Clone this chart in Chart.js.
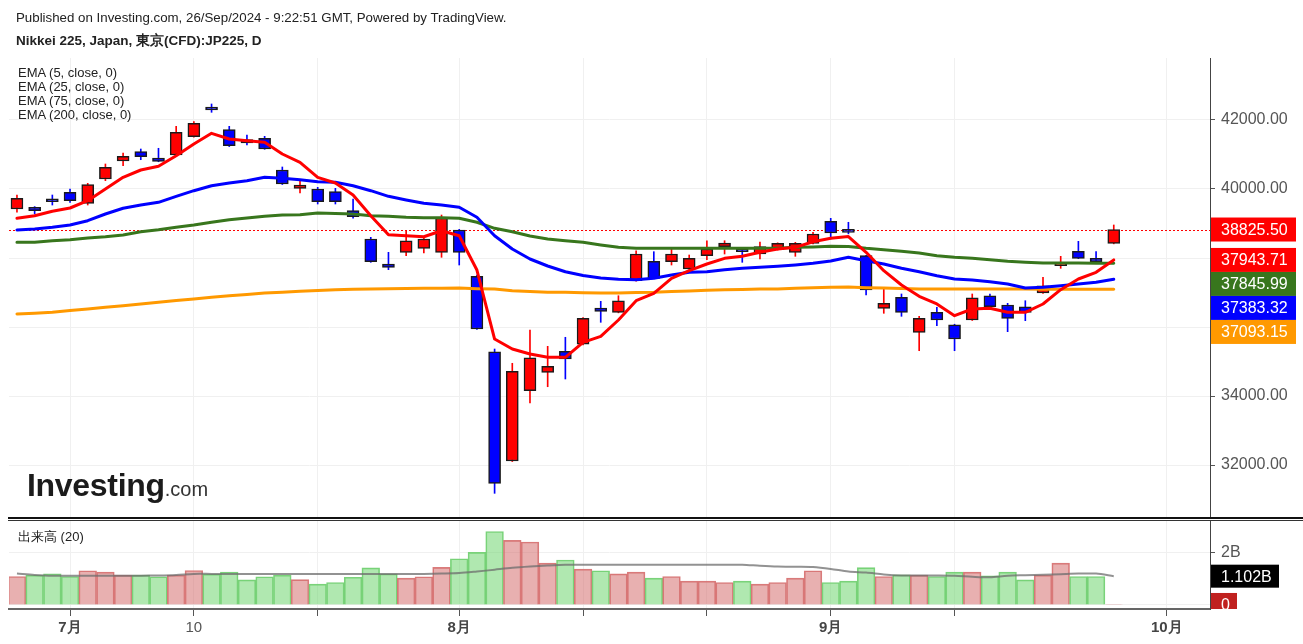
<!DOCTYPE html>
<html lang="ja">
<head>
<meta charset="utf-8">
<title>Nikkei 225 JP225 D</title>
<script src="https://cdn.jsdelivr.net/npm/chart.js@4.4.1/dist/chart.umd.min.js"></script>
<style>
  body { margin: 0; background: #fff; }
  #wrap { position: relative; width: 1303px; height: 644px; overflow: hidden; font-family: 'Liberation Sans', Arial, sans-serif; color: #222; }
  canvas { position: absolute; left: 0; }
  #priceChart { top: 0; }
  #volChart { top: 520px; }
  .pub { position: absolute; left: 16px; top: 10px; font-size: 13.3px; }
  .sym { position: absolute; left: 16px; top: 32px; font-size: 13.5px; font-weight: bold; }
  .ema { position: absolute; left: 18px; top: 66px; font-size: 13px; line-height: 14px; }
  .vol { position: absolute; left: 18px; top: 528px; font-size: 13px; }
  .logo { position: absolute; left: 27px; top: 469px; font-size: 32px; line-height: 32px; font-weight: bold; letter-spacing: -0.3px; color: #1b1b1b; }
  .logo span { font-size: 20px; font-weight: normal; letter-spacing: 0; color: #333; }
  .sep { position: absolute; left: 8px; right: 0; background: #111; }
</style>
</head>
<body>
<div id="wrap">
  <canvas id="priceChart" width="1303" height="518"></canvas>
  <canvas id="volChart" width="1303" height="124"></canvas>
  <div class="pub">Published on Investing.com, 26/Sep/2024 - 9:22:51 GMT, Powered by TradingView.</div>
  <div class="sym">Nikkei 225, Japan, 東京(CFD):JP225, D</div>
  <div class="ema">EMA (5, close, 0)<br>EMA (25, close, 0)<br>EMA (75, close, 0)<br>EMA (200, close, 0)</div>
  <div class="logo">Investing<span>.com</span></div>
  <div class="sep" style="top:517px;height:2px"></div>
  <div class="sep" style="top:520px;height:1px;background:#333"></div>
  <div class="vol">出来高 (20)</div>
</div>
<script>
// 日足 JP225 CFD, 2024/06/26 - 2024/09/26（祝日は休場）
const dates = [
  '06/26', '06/27', '06/28', '07/01', '07/02', '07/03', '07/04', '07/05', '07/08', '07/09',
  '07/10', '07/11', '07/12', '07/16', '07/17', '07/18', '07/19', '07/22', '07/23', '07/24',
  '07/25', '07/26', '07/29', '07/30', '07/31', '08/01', '08/02', '08/05', '08/06', '08/07',
  '08/08', '08/09', '08/13', '08/14', '08/15', '08/16', '08/19', '08/20', '08/21', '08/22',
  '08/23', '08/26', '08/27', '08/28', '08/29', '08/30', '09/02', '09/03', '09/04', '09/05',
  '09/06', '09/09', '09/10', '09/11', '09/12', '09/13', '09/17', '09/18', '09/19', '09/20',
  '09/24', '09/25', '09/26',
];
const opens = [
  39420, 39470, 39640, 39904, 39585, 40290, 40812, 41081, 40899, 40986,
  41516, 42368, 41719, 41429, 41470, 40551, 40020, 40000, 39922, 39371,
  38551, 37826, 38165, 38281, 38165, 38812, 37469, 35284, 32116, 34153,
  34687, 35296, 35499, 36551, 36426, 37342, 37904, 37893, 37681, 38067,
  38328, 38190, 38116, 38240, 38165, 38426, 39064, 38760, 38067, 36542,
  36861, 35846, 36426, 36066, 36203, 36907, 36638, 36588, 36985, 37780,
  38194, 37991, 38426,
];
const highs = [
  39826, 39490, 39826, 40000, 40165, 40725, 41043, 41159, 41180, 41817,
  41951, 42464, 41817, 41565, 41527, 40638, 40241, 40049, 40020, 39710,
  38600, 38165, 38791, 38570, 39246, 38830, 37507, 35362, 34948, 35913,
  35440, 35702, 36270, 36745, 36907, 38211, 38183, 38310, 38087, 38501,
  38501, 38261, 38464, 38440, 38455, 38745, 39150, 39035, 38080, 37122,
  36957, 36310, 36571, 36080, 36957, 36957, 36687, 36762, 37440, 38049,
  38484, 38183, 38957,
];
const lows = [
  39325, 39275, 39536, 39614, 39536, 40241, 40675, 40849, 40790, 40960,
  41500, 42223, 41230, 41275, 41150, 40130, 39884, 39565, 39565, 39151,
  37875, 37661, 38067, 38145, 38020, 37797, 35930, 31179, 32100, 33797,
  34269, 34493, 35480, 36136, 36410, 37330, 37400, 37797, 37670, 37951,
  38116, 37875, 37971, 38230, 38049, 38410, 38551, 38700, 36927, 36397,
  36310, 35313, 36038, 35313, 36190, 36522, 35864, 36183, 36970, 37701,
  37980, 37880, 38410,
];
const closes = [
  39730, 39374, 39630, 39661, 40125, 40629, 40948, 40936, 40803, 41643,
  41904, 42290, 41255, 41333, 41159, 40145, 40116, 39632, 39632, 39197,
  37893, 37730, 38501, 38551, 39159, 38165, 35942, 31469, 34716, 35110,
  34861, 35072, 36252, 36455, 36762, 38116, 37411, 38116, 37991, 38261,
  38435, 38180, 38328, 38426, 38426, 38696, 38725, 38745, 37072, 36687,
  36426, 36252, 36203, 35652, 36849, 36588, 36252, 36426, 37197, 37790,
  37991, 37893, 38825.5,
];
const ema5 = [
  39151, 39226, 39354, 39449, 39661, 40000, 40339, 40551, 40658, 40965,
  41304, 41614, 41449, 41400, 41354, 41014, 40774, 40339, 40174, 39826,
  39226, 38675, 38646, 38617, 38791, 38646, 37652, 35652, 35362, 35217,
  35122, 35122, 35556, 35730, 36203, 36762, 36977, 37411, 37632, 37826,
  37991, 38049, 38165, 38261, 38310, 38472, 38571, 38623, 38165, 37632,
  37217, 36890, 36667, 36327, 36522, 36542, 36426, 36426, 36667, 37081,
  37391, 37585, 37943.71,
];
const ema25 = [
  38812, 38841, 38890, 38956, 39081, 39275, 39441, 39536, 39614, 39788,
  39951, 40096, 40174, 40241, 40339, 40310, 40270, 40212, 40194, 40096,
  39951, 39788, 39681, 39585, 39536, 39470, 39180, 38646, 38261, 37971,
  37768, 37603, 37493, 37420, 37382, 37370, 37411, 37507, 37585, 37603,
  37661, 37701, 37730, 37759, 37797, 37846, 37913, 38020, 37922, 37826,
  37701, 37603, 37487, 37391, 37362, 37313, 37246, 37130, 37151, 37197,
  37246, 37296, 37383.32,
];
const ema75 = [
  38455, 38455, 38501, 38530, 38580, 38617, 38667, 38762, 38820, 38890,
  38956, 39035, 39110, 39159, 39209, 39246, 39255, 39304, 39290, 39275,
  39226, 39209, 39180, 39170, 39170, 39151, 39035, 38861, 38762, 38638,
  38551, 38501, 38455, 38377, 38310, 38281, 38281, 38281, 38281, 38281,
  38281, 38281, 38281, 38281, 38310, 38319, 38339, 38333, 38281, 38241,
  38194, 38145, 38067, 38020, 37991, 37951, 37904, 37875, 37855, 37855,
  37855, 37850, 37845.99,
];
const ema200 = [
  36377, 36400, 36426, 36475, 36522, 36570, 36617, 36665, 36716, 36765,
  36812, 36860, 36907, 36945, 36985, 37010, 37035, 37058, 37081, 37095,
  37105, 37110, 37115, 37120, 37125, 37128, 37110, 37100, 37052, 37030,
  37010, 37005, 36990, 36985, 36985, 37000, 37005, 37030, 37045, 37063,
  37080, 37090, 37100, 37102, 37120, 37135, 37150, 37160, 37140, 37130,
  37115, 37102, 37100, 37100, 37100, 37100, 37100, 37098, 37097, 37096,
  37095, 37094, 37093.15,
];
// 出来高（単位：B）
const volumes = [
  1.09, 1.14, 1.19, 1.09, 1.31, 1.26, 1.14, 1.14, 1.08, 1.14,
  1.32, 1.18, 1.26, 0.96, 1.08, 1.14, 0.97, 0.80, 0.86, 1.06,
  1.42, 1.19, 1.03, 1.08, 1.44, 1.77, 2.01, 2.81, 2.47, 2.41,
  1.60, 1.72, 1.37, 1.31, 1.19, 1.26, 1.03, 1.09, 0.91, 0.91,
  0.86, 0.91, 0.80, 0.86, 1.03, 1.31, 0.86, 0.91, 1.43, 1.09,
  1.15, 1.14, 1.09, 1.26, 1.26, 1.12, 1.26, 0.96, 1.14, 1.60,
  1.09, 1.09, 0.02,
];
const volSma = [
  1.20, 1.15, 1.12, 1.12, 1.12, 1.12, 1.12, 1.12, 1.13, 1.15,
  1.19, 1.19, 1.19, 1.19, 1.19, 1.19, 1.19, 1.19, 1.19, 1.19,
  1.19, 1.19, 1.19, 1.19, 1.20, 1.22, 1.28, 1.35, 1.42, 1.47,
  1.51, 1.54, 1.54, 1.54, 1.54, 1.54, 1.54, 1.54, 1.54, 1.54,
  1.54, 1.54, 1.50, 1.47, 1.46, 1.45, 1.38, 1.28, 1.24, 1.17,
  1.13, 1.13, 1.13, 1.12, 1.08, 1.06, 1.12, 1.14, 1.16, 1.18,
  1.20, 1.20, 1.102,
];
const priceTicks = [32000, 34000, 36000, 38000, 40000, 42000];
const volTicks = [0, 2];
const xTickIdx = [3, 10, 17, 25, 32, 39, 46, 53, 65];
const xTickText = ['7月', '10', '', '8月', '', '', '9月', '', '10月'];

const UP = '#ff0000', DOWN = '#0000ff';
const EMA_COLORS = { ema5: '#ff0000', ema25: '#0000ff', ema75: '#38761d', ema200: '#ff9900' };
const FONT = "'Liberation Sans', Arial, sans-serif";
const X_MIN = -0.45, X_MAX = 67.44;

Chart.defaults.font.family = FONT;

const isUp = (i) => closes[i] >= opens[i];
const candleColors = closes.map((c, i) => (isUp(i) ? UP : DOWN));
const pts = (arr) => arr.map((y, x) => ({ x, y }));
const setTicks = (vals) => (s) => { s.ticks = vals.map((value) => ({ value })); };
// 右軸の幅を固定し、ラベル分の上下パディングは付けない
const fixRightAxis = (s) => { s.width = 93; s.paddingTop = 0; s.paddingBottom = 0; };
const emaLine = (arr, color, order) => ({
  type: 'line', data: pts(arr), borderColor: color, borderWidth: 3,
  pointRadius: 0, tension: 0, borderJoinStyle: 'round', borderCapStyle: 'round', order,
});

function box(ctx, y, text, bg, w, h, font) {
  ctx.fillStyle = bg;
  ctx.fillRect(1211, y - h / 2, w, h);
  ctx.fillStyle = '#fff';
  ctx.font = font;
  ctx.textAlign = 'left';
  ctx.textBaseline = 'middle';
  ctx.fillText(text, 1221, y + 1);
}

const priceMarks = {
  id: 'priceMarks',
  beforeDatasetsDraw(chart) {
    const { ctx, chartArea: a, scales } = chart;
    const y = Math.round(scales.y.getPixelForValue(closes[closes.length - 1])) + 0.5;
    ctx.save();
    ctx.strokeStyle = '#ff0000';
    ctx.lineWidth = 1;
    ctx.setLineDash([2, 2]);
    ctx.beginPath();
    ctx.moveTo(a.left, y);
    ctx.lineTo(a.right, y);
    ctx.stroke();
    ctx.restore();
  },
  afterDraw(chart) {
    const { ctx, scales } = chart;
    const last = (arr) => arr[arr.length - 1];
    const tags = [
      { v: last(closes), bg: isUp(closes.length - 1) ? UP : DOWN },
      { v: last(ema5), bg: EMA_COLORS.ema5 },
      { v: last(ema75), bg: EMA_COLORS.ema75 },
      { v: last(ema25), bg: EMA_COLORS.ema25 },
      { v: last(ema200), bg: EMA_COLORS.ema200 },
    ].sort((p, q) => q.v - p.v);
    const H = 24;
    let bottom = -Infinity;
    ctx.save();
    tags.forEach((t) => {
      let y = scales.y.getPixelForValue(t.v);
      y = Math.max(y, bottom + H / 2);
      bottom = y + H / 2;
      box(ctx, y, t.v.toFixed(2), t.bg, 85, H, `16px ${FONT}`);
    });
    ctx.restore();
  },
};

new Chart(document.getElementById('priceChart'), {
  type: 'bar',
  data: {
    datasets: [
      emaLine(ema5, EMA_COLORS.ema5, 0),
      emaLine(ema25, EMA_COLORS.ema25, 1),
      emaLine(ema75, EMA_COLORS.ema75, 2),
      emaLine(ema200, EMA_COLORS.ema200, 3),
      {
        data: opens.map((o, i) => ({ x: i, y: [o, closes[i]] })),
        backgroundColor: candleColors, borderColor: '#1a1a1a', borderWidth: 1.5,
        borderSkipped: false, barThickness: 12, minBarLength: 3, grouped: false, order: 4,
      },
      {
        data: lows.map((l, i) => ({ x: i, y: [l, highs[i]] })),
        backgroundColor: candleColors, barThickness: 1, grouped: false, order: 5,
      },
    ],
  },
  options: {
    responsive: false,
    animation: false,
    layout: { padding: { left: 9, top: 58, right: 0, bottom: 0 } },
    plugins: { legend: { display: false }, tooltip: { enabled: false } },
    scales: {
      x: {
        type: 'linear', min: X_MIN, max: X_MAX, offset: false,
        afterBuildTicks: setTicks(xTickIdx),
        afterFit: (s) => { s.height = 0; },
        ticks: { display: false },
        grid: { color: '#f0f0f0', drawTicks: false, offset: false },
        border: { display: false },
      },
      y: {
        position: 'right', min: 30464, max: 43797,
        afterBuildTicks: setTicks(priceTicks),
        afterFit: fixRightAxis,
        ticks: { color: '#555', font: { size: 16 }, padding: 6, callback: (v) => v.toFixed(2) },
        grid: { color: '#f0f0f0', tickColor: '#555', tickLength: 5 },
        border: { color: '#444', width: 1 },
      },
    },
  },
  plugins: [priceMarks],
});

const volMarks = {
  id: 'volMarks',
  afterDraw(chart) {
    const { ctx, chartArea: a, scales } = chart;
    ctx.save();
    ctx.beginPath();
    ctx.rect(a.right, 0, 93, a.bottom);
    ctx.clip();
    box(ctx, scales.y.getPixelForValue(volSma[volSma.length - 1]), volSma[volSma.length - 1].toFixed(3) + 'B', '#000', 68, 23, `16px ${FONT}`);
    const lv = volumes.length - 1;
    box(ctx, scales.y.getPixelForValue(volumes[lv]), '0', isUp(lv) ? '#c0211f' : '#2e9e2e', 26, 23, `16px ${FONT}`);
    ctx.restore();
  },
};

new Chart(document.getElementById('volChart'), {
  type: 'bar',
  data: {
    datasets: [
      {
        type: 'line', data: pts(volSma), borderColor: 'rgba(110,110,110,0.75)', borderWidth: 2,
        pointRadius: 0, tension: 0.3, order: 0,
      },
      {
        data: pts(volumes),
        backgroundColor: volumes.map((v, i) => (isUp(i) ? 'rgba(214,112,112,0.55)' : 'rgba(112,214,112,0.55)')),
        borderColor: volumes.map((v, i) => (isUp(i) ? 'rgba(214,110,110,0.9)' : 'rgba(110,205,110,0.9)')),
        borderWidth: 1, barPercentage: 1, categoryPercentage: 1, order: 1,
      },
    ],
  },
  options: {
    responsive: false,
    animation: false,
    layout: { padding: { left: 9, top: 0, right: 0, bottom: 0 } },
    plugins: { legend: { display: false }, tooltip: { enabled: false } },
    scales: {
      x: {
        type: 'linear', min: X_MIN, max: X_MAX, offset: false,
        afterBuildTicks: setTicks(xTickIdx),
        afterFit: (s) => { s.height = 35; },
        ticks: {
          autoSkip: false, maxRotation: 0, padding: 3,
          callback: (v) => xTickText[xTickIdx.indexOf(v)],
          color: (c) => (c.tick && /月/.test(c.tick.label) ? '#444' : '#555'),
          font: (c) => ({ size: 15, weight: c.tick && /月/.test(c.tick.label) ? 'bold' : 'normal' }),
        },
        grid: { color: '#f0f0f0', tickColor: '#555', tickLength: 7, offset: false },
        border: { color: '#666', width: 2 },
      },
      y: {
        position: 'right', min: -0.153, max: 3.25,
        afterBuildTicks: setTicks(volTicks),
        afterFit: fixRightAxis,
        ticks: { color: '#555', font: { size: 16 }, padding: 6, callback: (v) => (v === 0 ? '0' : v + 'B') },
        grid: { color: '#f0f0f0', tickColor: '#555', tickLength: 5 },
        border: { color: '#444', width: 1 },
      },
    },
  },
  plugins: [volMarks],
});
</script>
</body>
</html>
